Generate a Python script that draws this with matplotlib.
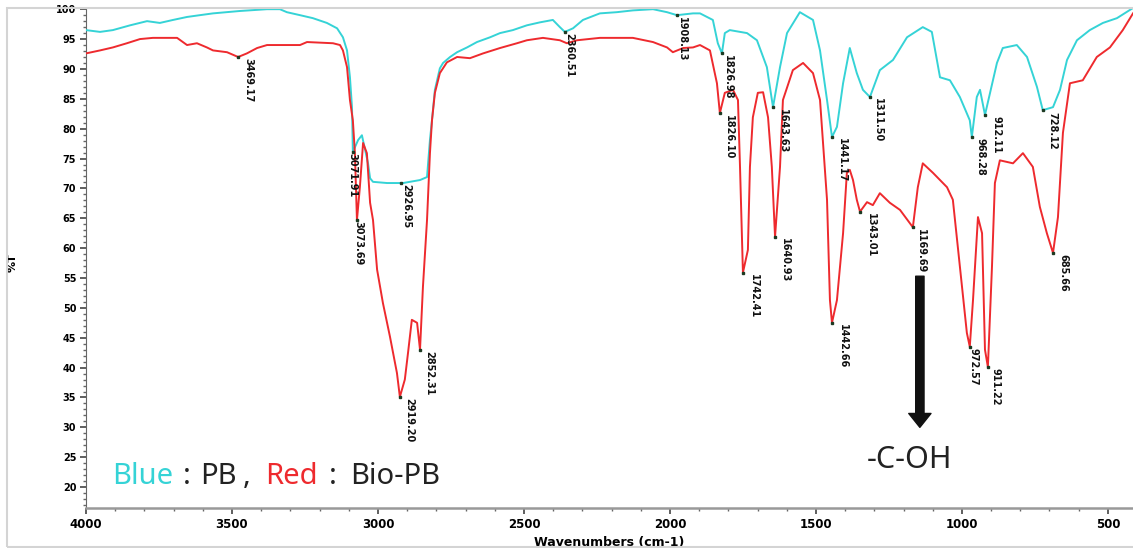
import numpy as np
import matplotlib
matplotlib.use('Agg')
import matplotlib.pyplot as plt
from matplotlib.patches import Rectangle
from matplotlib.ticker import MultipleLocator

# PB (blue) spectrum: wavenumber (cm-1), %T
pb_wn = [4000, 3952, 3908, 3849, 3791, 3747, 3702, 3654, 3610, 3565, 3473, 3380, 3336, 3312,
         3267, 3223, 3175, 3140, 3120, 3106, 3096, 3089, 3086, 3068, 3055, 3034, 3027, 3017,
         2969, 2914, 2856, 2832, 2822, 2815, 2805, 2788, 2777, 2753, 2729, 2695, 2661, 2616,
         2582, 2538, 2490, 2445, 2401, 2377, 2360, 2332, 2298, 2240, 2182, 2127, 2058, 2010,
         1976, 1921, 1897, 1853, 1836, 1822, 1812, 1795, 1736, 1702, 1668, 1647, 1623, 1599,
         1555, 1510, 1486, 1462, 1445, 1428, 1407, 1384, 1360, 1339, 1315, 1281, 1236, 1188,
         1134, 1103, 1075, 1041, 1007, 973, 966, 949, 938, 921, 880, 860, 812, 777, 743, 723,
         688, 664, 640, 606, 562, 517, 469, 414]
pb_t = [96.5, 96.2, 96.5, 97.3, 98.0, 97.7, 98.2, 98.7, 99.0, 99.3, 99.7, 100.0, 100.0, 99.5,
        99.0, 98.5, 97.7, 96.8, 95.3, 93.1, 88.6, 83.6, 76.1, 78.1, 78.9, 74.2, 71.7, 71.1,
        70.9, 70.9, 71.4, 71.9, 78.1, 81.4, 86.5, 90.1, 91.0, 92.0, 92.8, 93.6, 94.5, 95.3,
        96.0, 96.5, 97.3, 97.8, 98.2, 97.0, 96.2, 96.8, 98.2, 99.3, 99.5, 99.8, 100.0, 99.5,
        99.0, 99.3, 99.3, 98.2, 94.3, 92.6, 96.0, 96.5, 96.0, 94.8, 90.3, 83.6, 90.3, 96.0,
        99.5, 98.2, 93.1, 84.8, 78.6, 80.3, 87.6, 93.5, 89.3, 86.5, 85.3, 89.8, 91.5, 95.3,
        97.0, 96.2, 88.6, 88.1, 85.3, 81.4, 78.6, 85.3, 86.5, 82.3, 91.0, 93.5, 94.0, 92.0, 87.0, 83.1,
        83.6, 86.5, 91.5, 94.8, 96.5, 97.7, 98.5, 100.2]

# Bio-PB (red) spectrum
bio_wn = [4000, 3952, 3908, 3860, 3815, 3771, 3688, 3654, 3620, 3586, 3565, 3517, 3479, 3449,
          3414, 3380, 3267, 3243, 3154, 3130, 3120, 3106, 3096, 3086, 3079, 3072, 3062, 3051,
          3038, 3027, 3017, 3003, 2983, 2959, 2935, 2925, 2908, 2897, 2884, 2866, 2856, 2846,
          2832, 2822, 2815, 2805, 2788, 2764, 2729, 2685, 2640, 2582, 2524, 2490, 2435, 2377,
          2353, 2318, 2240, 2127, 2058, 2010, 1990, 1955, 1921, 1897, 1863, 1839, 1829, 1812,
          1784, 1767, 1760, 1750, 1733, 1726, 1716, 1699, 1681, 1664, 1651, 1640, 1623, 1613,
          1579, 1544, 1510, 1486, 1462, 1452, 1445, 1428, 1407, 1394, 1384, 1373, 1360, 1349,
          1325, 1305, 1281, 1247, 1212, 1168, 1151, 1134, 1099, 1051, 1031, 1007, 983, 973,
          962, 945, 931, 921, 911, 897, 887, 870, 825, 791, 757, 733, 709, 688, 671, 654,
          630, 586, 538, 493, 449, 414]
bio_t = [92.6, 93.1, 93.6, 94.3, 95.0, 95.2, 95.2, 94.0, 94.3, 93.6, 93.1, 92.8, 92.0, 92.6,
         93.5, 94.0, 94.0, 94.5, 94.3, 94.0, 93.1, 90.3, 84.8, 81.4, 75.9, 64.7, 70.2, 77.6,
         75.9, 67.6, 64.7, 56.4, 50.8, 45.2, 39.1, 35.1, 38.0, 42.5, 48.0, 47.5, 43.0, 53.5,
         64.7, 75.9, 81.4, 86.0, 89.3, 91.1, 92.0, 91.8, 92.6, 93.5, 94.3, 94.8, 95.2, 94.8,
         94.3, 94.8, 95.2, 95.2, 94.5, 93.6, 92.8, 93.5, 93.6, 94.0, 93.1, 87.6, 82.6, 86.0,
         86.5, 84.8, 73.6, 55.9, 59.7, 73.6, 81.9, 86.0, 86.1, 81.9, 73.6, 61.9, 73.6, 84.8,
         89.8, 91.0, 89.3, 84.8, 68.1, 51.3, 47.5, 51.3, 62.5, 72.6, 73.1, 71.4, 68.1, 66.1,
         67.7, 67.2, 69.2, 67.6, 66.4, 63.5, 70.2, 74.2, 72.6, 70.2, 68.1, 56.9, 45.8, 43.5,
         51.3, 65.2, 62.5, 43.0, 40.1, 56.9, 70.9, 74.7, 74.2, 75.9, 73.6, 66.9, 62.5, 59.2, 65.2, 79.3,
         87.6, 88.1, 92.0, 93.6, 96.5, 99.3]

# peak labels: (wavenumber, text, shift right in px)
bio_peaks = [(3479, '3469.17', 10), (3072, '3073.69', 1), (2925, '2919.20', 9),
             (2856, '2852.31', 9), (1829, '1826.10', 9), (1750, '1742.41', 11),
             (1640, '1640.93', 10), (1445, '1442.66', 11), (1349, '1343.01', 11),
             (1168, '1169.69', 8), (973, '972.57', 4), (911, '911.22', 8), (688, '685.66', 10)]
pb_peaks = [(3086, '3071.91', 0), (2920, '2926.95', 5), (2360, '2360.51', 4),
            (1976, '1908.13', 5), (1822, '1826.98', 6), (1647, '1643.63', 10),
            (1445, '1441.17', 10), (1315, '1311.50', 8), (966, '968.28', 9),
            (921, '912.11', 12), (723, '728.12', 10)]

BLUE = '#35d3d6'
RED = '#ee2a2e'
DARK = '#222222'

fig = plt.figure(figsize=(11.33, 5.48), dpi=100)
ax = fig.add_axes([86 / 1133, 40 / 548, 1 - 86 / 1133, 500 / 548])

ax.plot(pb_wn, pb_t, color=BLUE, lw=1.4, zorder=3)
ax.plot(bio_wn, bio_t, color=RED, lw=1.4, zorder=4)

# peak annotations
for wn_arr, t_arr, peaks in [(pb_wn, pb_t, pb_peaks), (bio_wn, bio_t, bio_peaks)]:
    for wn, txt, dx in peaks:
        t = np.interp(wn, wn_arr[::-1], t_arr[::-1])
        ax.plot(wn, t, marker='s', ms=2, color='#1d3a22', zorder=5)
        ax.annotate(txt, (wn, t), xytext=(dx * 0.72, -1), textcoords='offset points',
                    rotation=-90, ha='center', va='top', fontsize=7, fontweight='bold',
                    color='#111111', zorder=6)

# -C-OH arrow
ax.annotate('', xy=(1144, 30.0), xytext=(1144, 55.3),
            arrowprops=dict(width=6, headwidth=16, headlength=10,
                            facecolor='#111111', edgecolor='#111111', shrink=0), zorder=6)
ax.text(1180, 24.6, '-C-OH', fontsize=22, family='Noto Sans', color=DARK,
        ha='center', va='center')

# legend text, pieces placed along the x axis
legend_parts = [('Blue', BLUE, 3911), (':', DARK, 3668), ('PB', DARK, 3610),
                (',', DARK, 3462), ('Red', RED, 3387), (':', DARK, 3168),
                ('Bio-PB', DARK, 3096)]
for txt, col, xpos in legend_parts:
    ax.text(xpos, 19.3, txt, color=col, fontsize=21, family='Noto Sans', va='bottom')

ax.set_xlim(4000, 414)
ax.set_ylim(16.5, 100.2)
ax.xaxis.set_major_locator(MultipleLocator(500))
ax.xaxis.set_minor_locator(MultipleLocator(100))
ax.yaxis.set_major_locator(MultipleLocator(5))
ax.yaxis.set_minor_locator(MultipleLocator(1))
ax.tick_params(axis='both', which='major', length=4, width=1.2, color='#444444')
ax.tick_params(axis='both', which='minor', length=2, width=1, color='#666666')
ax.tick_params(axis='y', labelsize=7, pad=3)
ax.tick_params(axis='x', labelsize=8.5, pad=3)
for lab in ax.get_xticklabels() + ax.get_yticklabels():
    lab.set_fontweight('bold')
ax.spines['top'].set_visible(False)
ax.spines['right'].set_visible(False)
ax.spines['left'].set_color('#666666')
ax.spines['bottom'].set_color('#999999')
ax.spines['bottom'].set_linewidth(1.8)

ax.set_xlabel('Wavenumbers (cm-1)', fontsize=9, fontweight='bold', labelpad=4)
ax.set_ylabel('%T', fontsize=8, fontweight='bold')
ax.yaxis.set_label_coords(-68 / 1047, 0.49)

# faint frame around the picture
fig.patches.append(Rectangle((7 / 1133, 1 / 548), 1.2, 1 - 9 / 548,
                             transform=fig.transFigure, fill=False,
                             edgecolor='#d4d4d4', lw=1.5))

fig.savefig('out.png', dpi=100)
